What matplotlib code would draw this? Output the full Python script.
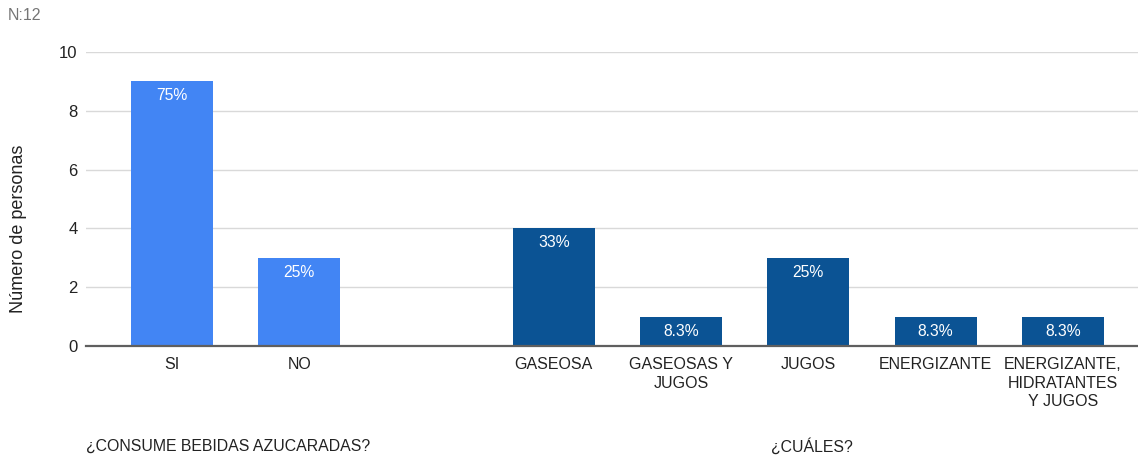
import matplotlib.pyplot as plt

plt.rcParams['font.family'] = ['Liberation Sans', 'DejaVu Sans']

# datos
categorias = ['SI', 'NO', '', 'GASEOSA', 'GASEOSAS Y\nJUGOS', 'JUGOS',
              'ENERGIZANTE', 'ENERGIZANTE,\nHIDRATANTES\nY JUGOS']
personas = [9, 3, 0, 4, 1, 3, 1, 1]
porcentajes = ['75%', '25%', '', '33%', '8.3%', '25%', '8.3%', '8.3%']
grupo = [0, 0, None, 1, 1, 1, 1, 1]
colores_grupo = ['#4285f4', '#0b5394']
titulos_grupo = ['¿CONSUME BEBIDAS AZUCARADAS?', '¿CUÁLES?']

fig = plt.figure(figsize=(11.38, 4.59), dpi=100)
ax = fig.add_axes([86 / 1138, 1 - 346 / 459, 1 - 86 / 1138, (346 - 52) / 459])

pos = list(range(len(categorias)))
for i in pos:
    if grupo[i] is None:
        continue
    ax.bar(i, personas[i], width=0.645, color=colores_grupo[grupo[i]], zorder=3)
    ax.annotate(porcentajes[i], (i, personas[i]), xytext=(0, -5), textcoords='offset points',
                ha='center', va='top', color='white', fontsize=11.3)

ax.set_xlim(-0.675, 7.59)
ax.set_ylim(0, 10)
ax.set_yticks([0, 2, 4, 6, 8, 10])
ax.set_xticks(pos)
ax.set_xticklabels(categorias, fontsize=11.5, color='#222222', linespacing=1.3)
ax.tick_params(axis='y', length=0, pad=6, labelsize=12, labelcolor='#222222')
ax.tick_params(axis='x', length=0, pad=8)
ax.grid(axis='y', color='#d9d9d9', linewidth=1, zorder=0)
for s in ['top', 'right', 'left']:
    ax.spines[s].set_visible(False)
ax.spines['bottom'].set_color('#5f5f5f')
ax.spines['bottom'].set_linewidth(1.6)
ax.spines['bottom'].set_zorder(4)

# titulos de grupo
trans = ax.get_xaxis_transform()
ax.text(0.0, -0.34, titulos_grupo[0], transform=ax.transAxes, ha='left', va='center',
        fontsize=11.4, color='#222222')
centro = sum(i for i in pos if grupo[i] == 1) / grupo.count(1)
ax.text(centro + 0.03, -0.34, titulos_grupo[1], transform=trans, ha='center', va='center',
        fontsize=11.4, color='#222222')

fig.text(8 / 1138, 1 - 16 / 459, 'N:12', ha='left', va='center', fontsize=11.5, color='#757575')
fig.text(19 / 1138, 1 - 313 / 459, 'Número de personas', rotation=90, ha='center', va='bottom',
         fontsize=13, color='#222222')

fig.savefig('out.png', dpi=100, facecolor='white')
